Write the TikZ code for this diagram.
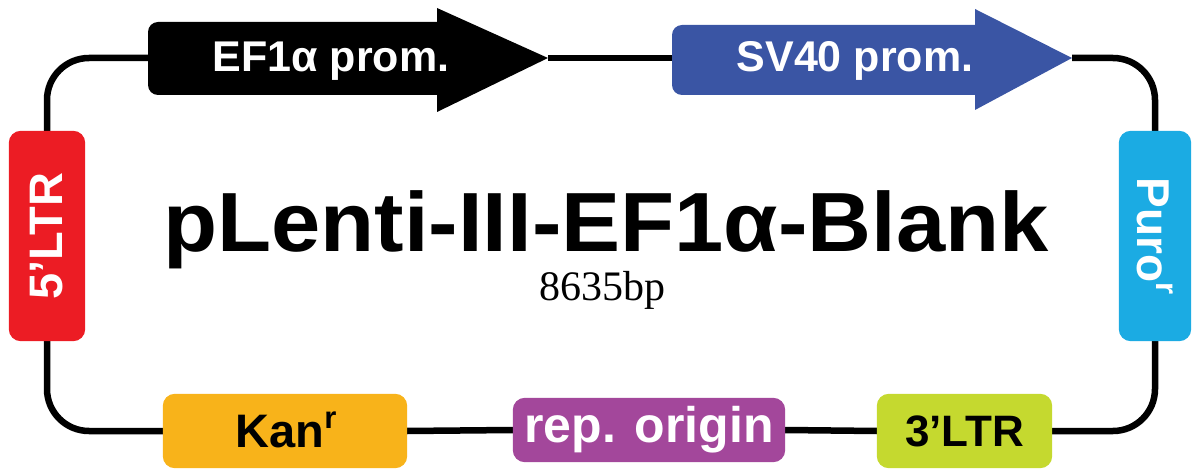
\documentclass[tikz,border=0pt]{standalone}
\usepackage{fontspec}
\setmainfont{Liberation Sans}
\newfontfamily\serifF{Liberation Serif}
\definecolor{ltrred}{HTML}{EC1C24}
\definecolor{svblue}{HTML}{3A55A4}
\definecolor{purocyan}{HTML}{1BABE3}
\definecolor{kanorange}{HTML}{F8B31A}
\definecolor{oripurple}{HTML}{A3479B}
\definecolor{ltrgreen}{HTML}{C5D92F}
\newcommand{\supr}{\raisebox{0.42em}{\fontsize{31}{31}\selectfont r}}
\begin{document}
\begin{tikzpicture}[x=1pt,y=-1pt,
  bb/.style={line width=6.5pt, black},
  bbr/.style={bb, rounded corners=42pt},
  box/.style={rounded corners=12pt, inner sep=0pt},
  lbl/.style={inner sep=0pt, font=\fontsize{43}{43}\selectfont\bfseries},
]
\useasboundingbox (0,0) rectangle (1192,470);

% arrow end points
\coordinate (eftail) at (148,58);
\coordinate (eftip) at (548,58);
\coordinate (svtail) at (672,58);
\coordinate (svtip) at (1072,58);

% boxes (geometry)
\node[box, minimum width=76pt, minimum height=210pt] (ltr5) at (47,236) {};
\node[box, minimum width=72pt, minimum height=210pt] (puro) at (1155,236) {};
\node[box, minimum width=244pt, minimum height=74pt] (kan) at (285,431) {};
\node[box, minimum width=272pt, minimum height=64pt] (ori) at (649,430) {};
\node[box, minimum width=175pt, minimum height=74pt] (ltr3) at (964.5,431) {};

% backbone
\draw[bbr] (ltr5.north) |- (eftail);
\draw[bb] (eftip) -- (svtail);
\draw[bbr] (svtip) -| (puro.north);
\draw[bbr] (puro.south) |- (ltr3.east);
\draw[bb] (ltr3.west) -- (ori.east);
\draw[bb] (ori.west) -- (kan.east);
\draw[bbr] (kan.west) -| (ltr5.south);

% box fills on top
\fill[ltrred, rounded corners=12pt] (ltr5.south west) rectangle (ltr5.north east);
\fill[purocyan, rounded corners=12pt] (puro.south west) rectangle (puro.north east);
\fill[kanorange, rounded corners=12pt] (kan.south west) rectangle (kan.north east);
\fill[oripurple, rounded corners=12pt] (ori.south west) rectangle (ori.north east);
\fill[ltrgreen, rounded corners=12pt] (ltr3.south west) rectangle (ltr3.north east);

% promoter arrows
\fill[black, rounded corners=10pt] (148,22) rectangle (452,95);
\fill[black] (437,8) -- (eftip) -- (437,112) -- cycle;
\fill[svblue, rounded corners=10pt] (672,25) rectangle (990,95);
\fill[svblue] (975,9) -- (svtip) -- (975,110) -- cycle;

% labels
\node[lbl, white] (eflbl) at (331,61) {EF1α prom.};
\node[lbl, white] (svlbl) at (855,61) {SV40 prom.};
\node[lbl, white, rotate=90, font=\fontsize{47}{47}\selectfont\bfseries] (ltr5lbl) at (ltr5) {5’LTR};
\node[lbl, white, rotate=-90, font=\fontsize{46}{46}\selectfont\bfseries] (purolbl) at (puro) {Puro\supr};
\node[lbl, font=\fontsize{47}{47}\selectfont\bfseries] (kanlbl) at (286,430) {Kan\supr};
\node[lbl, white, font=\fontsize{50}{50}\selectfont\bfseries] (orilbl) at (ori) {rep. origin};
\node[lbl, font=\fontsize{44}{44}\selectfont\bfseries] (ltr3lbl) at (ltr3) {3’LTR};

% title
\node[inner sep=0pt, anchor=base, xscale=1.054, font=\fontsize{84}{84}\selectfont\bfseries] (title) at (606,252) {pLenti-III-EF1α-Blank};
\node[inner sep=0pt, anchor=base, font=\serifF\fontsize{42}{42}\selectfont] (bp) at (602,301) {8635bp};
\end{tikzpicture}
\end{document}
